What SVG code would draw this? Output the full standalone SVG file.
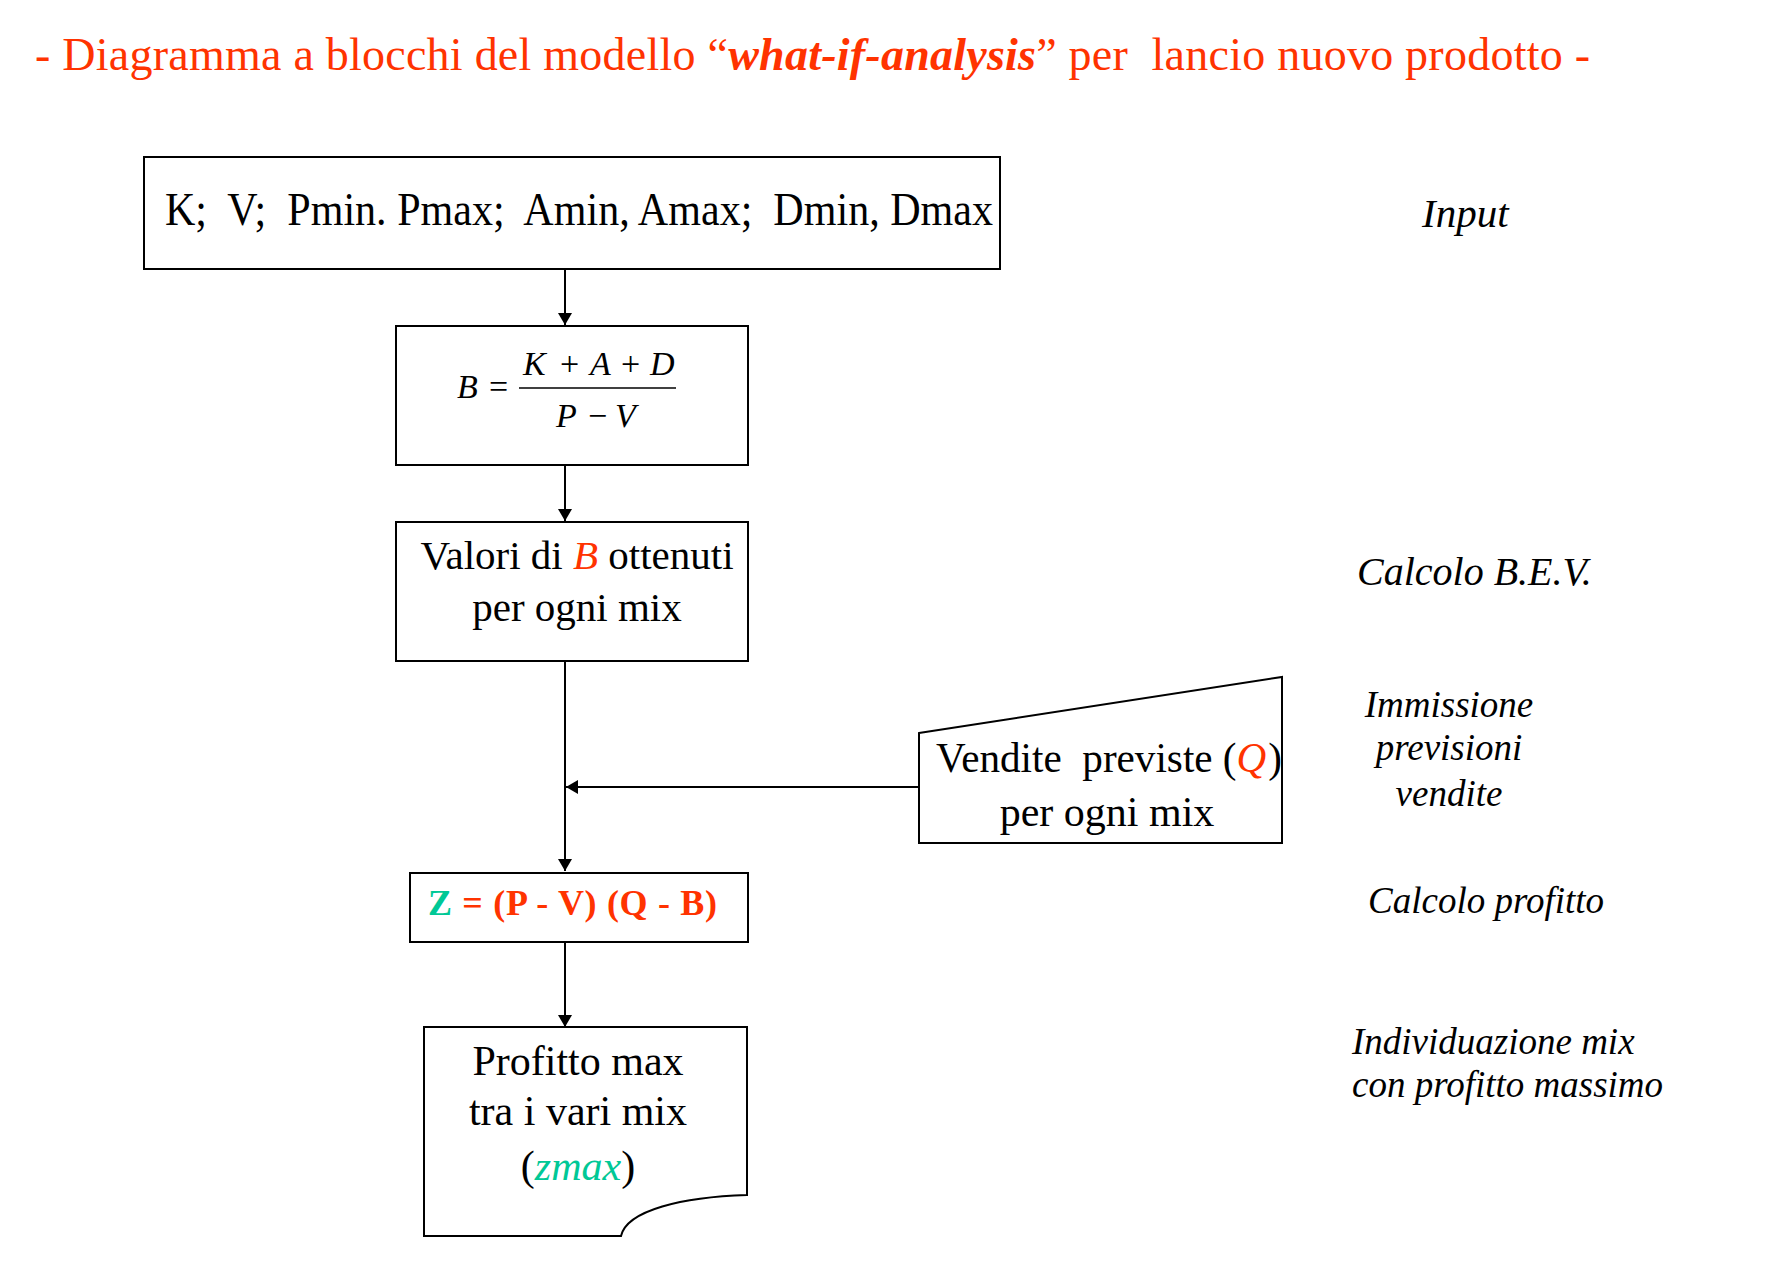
<svg xmlns="http://www.w3.org/2000/svg" width="1777" height="1285" viewBox="0 0 1777 1285">
<style>
.box{fill:#ffffff;stroke:#000000;stroke-width:2}
.ser{font-family:"Liberation Serif","Times New Roman",serif;fill:#000000;white-space:pre}
.it{font-style:italic}
.red{fill:#FF3300}
.teal{fill:#00C896}
.con{fill:none;stroke:#000000;stroke-width:2}
</style>
<defs>
<marker id="arr" markerUnits="userSpaceOnUse" markerWidth="14" markerHeight="14" refX="12" refY="7" orient="auto">
<path d="M0,0 L12,7 L0,14 Z" fill="#000000"/>
</marker>
</defs>
<rect width="1777" height="1285" fill="#ffffff"/>

<g id="title">
<text class="ser red" x="35" y="70" font-size="46" textLength="1555" lengthAdjust="spacing">- Diagramma a blocchi del modello “<tspan font-weight="bold" font-style="italic">what-if-analysis</tspan>” per  lancio nuovo prodotto -</text>
</g>

<g id="connectors">
<path class="con" d="M565,269 V325" marker-end="url(#arr)"/>
<path class="con" d="M565,465 V521" marker-end="url(#arr)"/>
<path class="con" d="M565,661 V871" marker-end="url(#arr)"/>
<path class="con" d="M565,942 V1027" marker-end="url(#arr)"/>
<path class="con" d="M919,787 H566" marker-end="url(#arr)"/>
</g>

<g id="node-input">
<rect class="box" x="144" y="157" width="856" height="112"/>
<text class="ser" x="165" y="225" font-size="46" textLength="828" lengthAdjust="spacingAndGlyphs">K;  V;  Pmin. Pmax;  Amin, Amax;  Dmin, Dmax</text>
</g>

<g id="node-formula">
<rect class="box" x="396" y="326" width="352" height="139"/>
<g class="ser it" font-size="34">
<text x="457" y="398">B</text>
<text x="523" y="375">K</text>
<text x="590" y="375">A</text>
<text x="650" y="375">D</text>
<text x="556" y="427">P</text>
<text x="615" y="427">V</text>
</g>
<g class="ser" font-size="34">
<text x="489" y="398">=</text>
<text x="560" y="375">+</text>
<text x="621" y="375">+</text>
<text x="588" y="427">−</text>
</g>
<line x1="519" y1="388" x2="676" y2="388" stroke="#000000" stroke-width="1.5"/>
</g>

<g id="node-valori">
<rect class="box" x="396" y="522" width="352" height="139"/>
<text class="ser" x="577" y="569" font-size="41" text-anchor="middle">Valori di <tspan class="it red">B</tspan> ottenuti</text>
<text class="ser" x="577" y="621" font-size="41" text-anchor="middle">per ogni mix</text>
</g>

<g id="node-vendite">
<path class="box" d="M919,733 L1282,677 L1282,843 L919,843 Z"/>
<text class="ser" x="936" y="772" font-size="42" textLength="346" lengthAdjust="spacingAndGlyphs">Vendite  previste (<tspan class="it red">Q</tspan><tspan dx="2">)</tspan></text>
<text class="ser" x="1107" y="826" font-size="42" text-anchor="middle">per ogni mix</text>
</g>

<g id="node-z">
<rect class="box" x="410" y="873" width="338" height="69"/>
<text class="ser" x="428" y="915" font-size="36" font-weight="bold" textLength="289" lengthAdjust="spacing"><tspan class="teal">Z</tspan><tspan class="red"> = (P - V) (Q - B)</tspan></text>
</g>

<g id="node-profitto">
<path class="box" d="M424,1027 H747 V1195 C683,1197 627,1210 621,1236 H424 Z"/>
<text class="ser" x="578" y="1075" font-size="42" text-anchor="middle">Profitto max</text>
<text class="ser" x="578" y="1125" font-size="42" text-anchor="middle">tra i vari mix</text>
<text class="ser" x="578" y="1180" font-size="42" text-anchor="middle">(<tspan class="it teal">zmax</tspan>)</text>
</g>

<g id="labels" class="ser it">
<text x="1422" y="227" font-size="41">Input</text>
<text x="1357" y="585" font-size="40">Calcolo B.E.V.</text>
<text x="1449" y="717" font-size="37" text-anchor="middle">Immissione</text>
<text x="1449" y="760" font-size="37" text-anchor="middle">previsioni</text>
<text x="1449" y="806" font-size="37" text-anchor="middle">vendite</text>
<text x="1368" y="913" font-size="37">Calcolo profitto</text>
<text x="1352" y="1054" font-size="37">Individuazione mix</text>
<text x="1352" y="1097" font-size="37">con profitto massimo</text>
</g>
</svg>
